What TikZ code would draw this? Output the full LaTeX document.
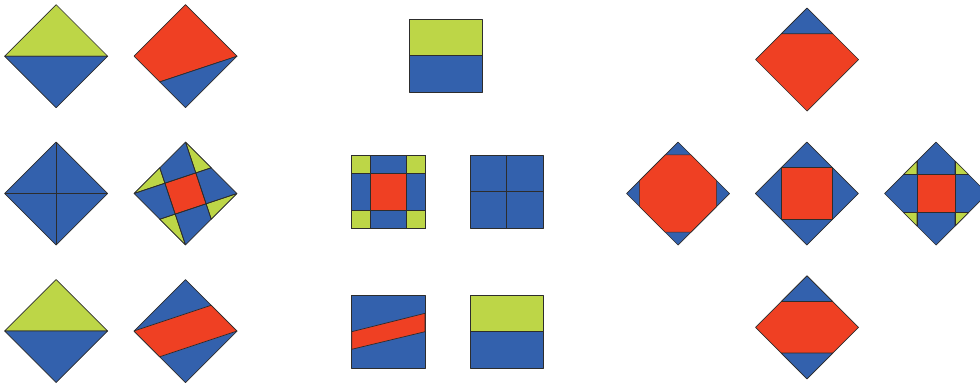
\documentclass[tikz,border=0pt]{standalone}
\definecolor{qgreen}{RGB}{189,214,71}
\definecolor{qblue}{RGB}{51,97,173}
\definecolor{qred}{RGB}{239,64,35}
\definecolor{qline}{RGB}{45,45,45}
\tikzset{
  piece/.style={draw=qline,line width=0.7pt,line join=round},
  gp/.style={piece,fill=qgreen},
  bp/.style={piece,fill=qblue},
  rp/.style={piece,fill=qred},
  seam/.style={draw=qline,line width=0.7pt},
  dia/.style={shift={#1},scale=51.5}
}
\begin{document}
\begin{tikzpicture}[x=1pt,y=-1pt]
\useasboundingbox (0,0) rectangle (980,384);
\clip (0,0) rectangle (980,384);
% ---------- column 1 ----------
\begin{scope}[dia={(56.2,56.2)}]
  \fill[gp] (-1,0)--(0,-1)--(1,0)--cycle;
  \fill[bp] (-1,0)--(0,1)--(1,0)--cycle;
\end{scope}
\begin{scope}[dia={(56.2,193.5)}]
  \fill[bp] (-1,0)--(0,-1)--(1,0)--(0,1)--cycle;
  \draw[seam] (-1,0)--(1,0) (0,-1)--(0,1);
\end{scope}
\begin{scope}[dia={(56.2,331)}]
  \fill[gp] (-1,0)--(0,-1)--(1,0)--cycle;
  \fill[bp] (-1,0)--(0,1)--(1,0)--cycle;
\end{scope}
% ---------- column 2 ----------
\begin{scope}[dia={(185.5,56.2)}]
  \coordinate (mbl) at (-0.5,0.5);
  \fill[rp] (-1,0)--(0,-1)--(1,0)--(mbl)--cycle;
  \fill[bp] (1,0)--(0,1)--(mbl)--cycle;
\end{scope}
\begin{scope}[dia={(185.5,193.5)}]
  \coordinate (L) at (-1,0); \coordinate (T) at (0,-1);
  \coordinate (R) at (1,0);  \coordinate (B) at (0,1);
  \coordinate (mtr) at (0.5,-0.5); \coordinate (mrb) at (0.5,0.5);
  \coordinate (mbl) at (-0.5,0.5); \coordinate (mlt) at (-0.5,-0.5);
  \coordinate (p1) at (0.2,-0.4); \coordinate (p2) at (0.4,0.2);
  \coordinate (p3) at (-0.2,0.4); \coordinate (p4) at (-0.4,-0.2);
  \fill[bp] (L)--(T)--(R)--(B)--cycle;
  \fill[gp] (T)--(mtr)--(p1)--cycle;
  \fill[gp] (R)--(mrb)--(p2)--cycle;
  \fill[gp] (B)--(mbl)--(p3)--cycle;
  \fill[gp] (L)--(mlt)--(p4)--cycle;
  \fill[rp] (p1)--(p2)--(p3)--(p4)--cycle;
  \draw[seam] (L)--(mtr) (T)--(mrb) (R)--(mbl) (B)--(mlt);
\end{scope}
\begin{scope}[dia={(185.5,331)}]
  \fill[bp] (-1,0)--(0,-1)--(1,0)--(0,1)--cycle;
  \fill[rp] (-1,0)--(0.5,-0.5)--(1,0)--(-0.5,0.5)--cycle;
\end{scope}
% ---------- middle squares ----------
\fill[gp] (409,19.3) rectangle (482.3,55.8);
\fill[bp] (409,55.8) rectangle (482.3,92.3);
% nine-patch
\fill[bp] (351.7,155) rectangle (425,228.3);
\fill[gp] (351.7,155) rectangle (370,173.3);
\fill[gp] (406.7,155) rectangle (425,173.3);
\fill[gp] (351.7,210) rectangle (370,228.3);
\fill[gp] (406.7,210) rectangle (425,228.3);
\fill[rp] (370,173.3) rectangle (406.7,210);
\draw[seam] (370,155)--(370,228.3) (406.7,155)--(406.7,228.3)
            (351.7,173.3)--(425,173.3) (351.7,210)--(425,210);
% four-patch
\fill[bp] (470,155) rectangle (543.3,228.3);
\draw[seam] (506.7,155)--(506.7,228.3) (470,191.7)--(543.3,191.7);
% band square
\fill[bp] (351.7,295) rectangle (425,368.3);
\fill[rp] (351.7,331.7)--(425,313.3)--(425,331.7)--(351.7,349.3)--cycle;
% half square
\fill[gp] (470,295) rectangle (543.3,331.7);
\fill[bp] (470,331.7) rectangle (543.3,368.3);
% ---------- right column ----------
\begin{scope}[dia={(807,59.5)}]
  \fill[rp] (-1,0)--(0,-1)--(1,0)--(0,1)--cycle;
  \fill[bp] (-0.5,-0.5)--(0,-1)--(0.5,-0.5)--cycle;
\end{scope}
\begin{scope}[dia={(678,193.5)}]
  \fill[bp] (-1,0)--(0,-1)--(1,0)--(0,1)--cycle;
  \fill[rp] (-0.25,-0.75)--(0.25,-0.75)--(0.75,-0.25)--(0.75,0.25)
            --(0.25,0.75)--(-0.25,0.75)--(-0.75,0.25)--(-0.75,-0.25)--cycle;
\end{scope}
\begin{scope}[dia={(806.8,193.5)}]
  \fill[bp] (-1,0)--(0,-1)--(1,0)--(0,1)--cycle;
  \fill[rp] (-0.5,-0.5) rectangle (0.5,0.5);
\end{scope}
\begin{scope}[dia={(936,193.5)}]
  \def\a{0.37}
  \fill[bp] (-1,0)--(0,-1)--(1,0)--(0,1)--cycle;
  \fill[gp] (-\a,{-(1-\a)})--(-\a,-\a)--({-(1-\a)},-\a)--cycle;
  \fill[gp] (\a,{-(1-\a)})--(\a,-\a)--({1-\a},-\a)--cycle;
  \fill[gp] (-\a,{1-\a})--(-\a,\a)--({-(1-\a)},\a)--cycle;
  \fill[gp] (\a,{1-\a})--(\a,\a)--({1-\a},\a)--cycle;
  \fill[rp] (-\a,-\a) rectangle (\a,\a);
  \draw[seam] (-\a,{-(1-\a)})--(-\a,{1-\a}) (\a,{-(1-\a)})--(\a,{1-\a})
              ({-(1-\a)},-\a)--({1-\a},-\a) ({-(1-\a)},\a)--({1-\a},\a);
\end{scope}
\begin{scope}[dia={(807,327.3)}]
  \fill[rp] (-1,0)--(0,-1)--(1,0)--(0,1)--cycle;
  \fill[bp] (-0.5,-0.5)--(0,-1)--(0.5,-0.5)--cycle;
  \fill[bp] (-0.5,0.5)--(0,1)--(0.5,0.5)--cycle;
\end{scope}
\end{tikzpicture}
\end{document}
